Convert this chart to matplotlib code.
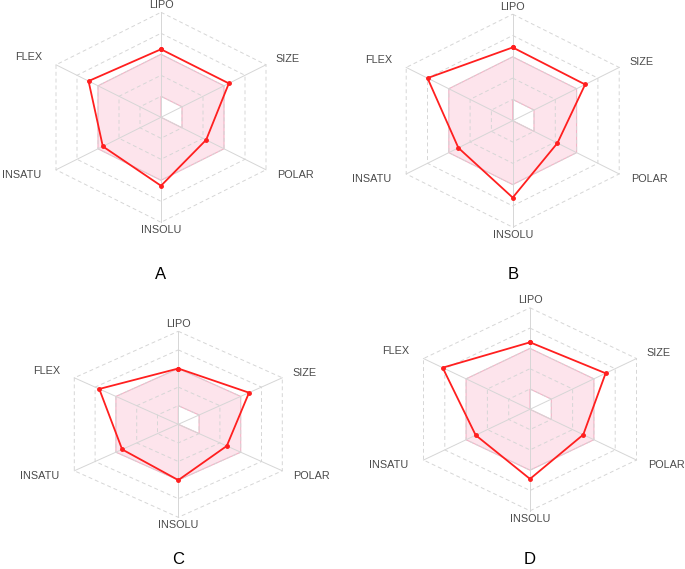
import numpy as np
import matplotlib
matplotlib.use("Agg")
import matplotlib.pyplot as plt

# Bioavailability radar: six physicochemical properties, scaled to 5 rings
properties = ["LIPO", "SIZE", "POLAR", "INSOLU", "INSATU", "FLEX"]
compound_a = [3.24, 3.23, 2.15, 3.26, 2.77, 3.45]
compound_b = [3.44, 3.40, 2.10, 3.61, 2.55, 4.00]
compound_c = [3.00, 3.40, 2.33, 3.00, 2.70, 3.80]
compound_d = [3.30, 3.55, 2.50, 3.43, 2.55, 4.10]
optimal_min = [1, 1, 1, 0, 0, 0]
optimal_max = [3, 3, 3, 3, 3, 3]
panel_letters = ["A", "B", "C", "D"]

W, H = 685, 569
N_RINGS = 5
angles = np.deg2rad(np.arange(6) * 60.0)  # clockwise from top


def to_xy(r):
    r = np.asarray(r, dtype=float)
    return r * np.sin(angles), r * np.cos(angles)


def closed(a):
    return np.append(a, a[0])


# (center x px, center y px, px per ring vertical, px per ring along x at sin60,
#  letter y px)
layout = [
    (161.0, 117.3, 21.0, 21.0, 274.0),
    (512.7, 120.7, 21.3, 21.3, 274.0),
    (178.3, 424.3, 18.6, 20.8, 559.0),
    (530.0, 409.3, 20.3, 21.3, 559.0),
]

label_pos = {
    "LIPO": (0.0, 5.12, "center", "bottom"),
    "SIZE": (4.74, 2.76, "left", "center"),
    "POLAR": (4.80, -2.76, "left", "center"),
    "INSOLU": (0.0, -5.15, "center", "top"),
    "INSATU": (-4.95, -2.76, "right", "center"),
    "FLEX": (-4.90, 2.86, "right", "center"),
}

fig = plt.figure(figsize=(W / 100, H / 100), dpi=100)
fig.patch.set_facecolor("white")

XL, XR, YB, YT = -6.5, 6.5, -8.5, 6.5
grid_c = "#d6d6d6"
text_c = "#4a4a4a"

for values, letter, (cx, cy, uy, ux, ly) in zip(
    [compound_a, compound_b, compound_c, compound_d], panel_letters, layout
):
    ux_full = ux / np.sin(np.deg2rad(60))
    left = (cx + XL * ux_full) / W
    bottom = (H - cy + YB * uy) / H
    width = (XR - XL) * ux_full / W
    height = (YT - YB) * uy / H
    ax = fig.add_axes([left, bottom, width, height])
    ax.set_xlim(XL, XR)
    ax.set_ylim(YB, YT)
    ax.set_aspect("auto")
    ax.axis("off")

    # optimal range (pink band with hole)
    ox, oy = to_xy(optimal_max)
    ix, iy = to_xy(optimal_min)
    ax.fill(closed(ox), closed(oy), facecolor="#fde4ec", edgecolor="#f3b3c6",
            linewidth=0.8, zorder=1)
    ax.fill(closed(ix), closed(iy), facecolor="white", edgecolor="#f3b3c6",
            linewidth=0.8, zorder=2)

    # hexagonal rings and spokes
    for k in range(1, N_RINGS + 1):
        rx, ry = to_xy([k] * 6)
        ax.plot(closed(rx), closed(ry), color=grid_c, linewidth=0.7,
                linestyle=(0, (4, 3)), zorder=3)
    sx, sy = to_xy([N_RINGS] * 6)
    for x, y in zip(sx, sy):
        ax.plot([0, x], [0, y], color=grid_c, linewidth=0.7, zorder=3)

    # compound profile
    px, py = to_xy(values)
    ax.plot(closed(px), closed(py), color="#ff1f1f", linewidth=1.3,
            marker="o", markersize=2.5, zorder=4)

    for name in properties:
        x, y, ha, va = label_pos[name]
        ax.text(x, y, name, ha=ha, va=va, fontsize=7.8, color=text_c,
                family=["Liberation Sans", "DejaVu Sans"], clip_on=False)

    fig.text(cx / W, 1 - ly / H, letter, ha="center", va="center",
             fontsize=12, color="black",
             family=["Liberation Sans", "DejaVu Sans"])

fig.savefig("out.png", dpi=100)
